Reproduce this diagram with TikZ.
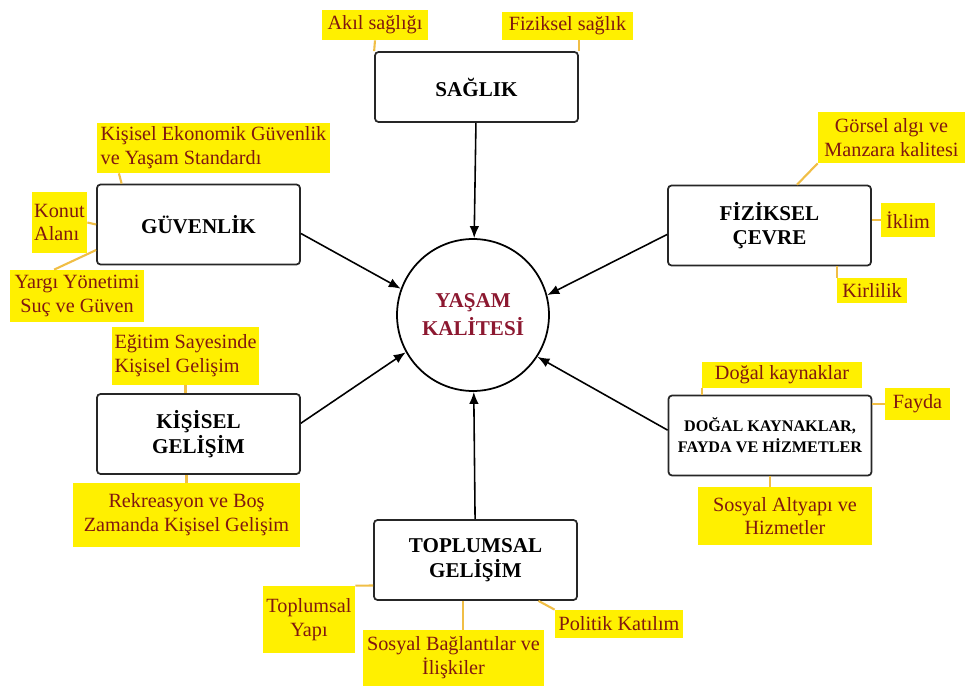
\documentclass[tikz,border=0pt]{standalone}
\usepackage{fontspec}
\setmainfont{Liberation Serif}
\usetikzlibrary{arrows.meta}

\definecolor{labelfill}{RGB}{255,240,0}
\definecolor{labeltext}{RGB}{128,24,16}
\definecolor{coretext}{RGB}{140,24,48}
\definecolor{linkline}{RGB}{240,190,70}

\tikzset{
  domainbox/.style={draw=black!85, line width=1pt, rounded corners=2pt, fill=white,
    minimum width=4.06cm, minimum height=1.6cm, align=center,
    font=\fontsize{12}{14}\selectfont\bfseries},
  itembox/.style={fill=labelfill, text=labeltext, inner sep=1pt, align=center,
    font=\fontsize{11.5}{13.5}\selectfont},
  link/.style={draw=linkline, line width=1.2pt},
  pointer/.style={-{Latex[length=2.4mm, width=1.9mm]}, line width=0.9pt},
}

\begin{document}
\begin{tikzpicture}[x=0.02cm, y=-0.02cm]
    \useasboundingbox (0,0) rectangle (965,686);
    % Centre
    \node[draw, circle, line width=1pt, minimum size=3.04cm, align=center, text=coretext,
      font=\fontsize{12}{16}\selectfont\bfseries] (yk) at (473,315) {YAŞAM\\KALİTESİ};
    % Dimensions
    \node[domainbox, minimum height=1.4cm] (sag) at (476.5,87) {SAĞLIK};
    \node[domainbox] (guv) at (198.5,224.5) {GÜVENLİK};
    \node[domainbox] (fiz) at (769.5,225.5) {FİZİKSEL\\ÇEVRE};
    \node[domainbox] (kis) at (198.5,434) {KİŞİSEL\\GELİŞİM};
    \node[domainbox, font=\fontsize{9.2}{12}\selectfont\bfseries] (dog) at (770,435.5) {DOĞAL KAYNAKLAR,\\FAYDA VE HİZMETLER};
    \node[domainbox] (top) at (475.5,560) {TOPLUMSAL\\GELİŞİM};
    % Arrows to the centre
    \draw[pointer] (sag) -- (yk);
    \draw[pointer] (guv.-5) -- (yk.160);
    \draw[pointer] (fiz.185) -- (yk.15);
    \draw[pointer] (kis.6) -- (yk.209);
    \draw[pointer] (dog.177) -- (yk.-33);
    \draw[pointer] (top) -- (yk);
    % Items
    \node[itembox, minimum width=2.12cm, minimum height=0.6cm] (aks) at (375,25) {Akıl sağlığı};
    \node[itembox, minimum width=2.62cm, minimum height=0.56cm] (fzs) at (567.5,26) {Fiziksel sağlık};
    \node[itembox, align=left, minimum width=4.66cm, minimum height=1cm] (keg) at (213.5,148) {Kişisel Ekonomik Güvenlik\\ve Yaşam Standardı};
    \node[itembox, align=left, minimum width=1.1cm, minimum height=1.22cm] (kon) at (59.5,222.5) {Konut\\Alanı};
    \node[itembox, minimum width=2.68cm, minimum height=1.04cm] (yar) at (77,296) {Yargı Yönetimi\\Suç ve Güven};
    \node[itembox, minimum width=2.94cm, minimum height=1.02cm] (gor) at (891.5,137.5) {Görsel algı ve\\Manzara kalitesi};
    \node[itembox, minimum width=1.08cm, minimum height=0.68cm] (ikl) at (908,220) {İklim};
    \node[itembox, minimum width=1.4cm, minimum height=0.5cm] (kir) at (872,290.5) {Kirlilik};
    \node[itembox, minimum width=3.2cm, minimum height=0.52cm] (dkl) at (782,375) {Doğal kaynaklar};
    \node[itembox, minimum width=1.3cm, minimum height=0.64cm] (fay) at (917.5,404) {Fayda};
    \node[itembox, minimum width=3.48cm, minimum height=1.16cm] (sos) at (785,516) {Sosyal Altyapı ve\\Hizmetler};
    \node[itembox, align=left, minimum width=2.94cm, minimum height=1.16cm] (egi) at (185.5,356) {Eğitim Sayesinde\\Kişisel Gelişim};
    \node[itembox, minimum width=4.54cm, minimum height=1.28cm] (rek) at (186.5,515) {Rekreasyon ve Boş\\Zamanda Kişisel Gelişim};
    \node[itembox, minimum width=1.84cm, minimum height=1.34cm] (tyap) at (309,619.5) {Toplumsal\\Yapı};
    \node[itembox, minimum width=3.62cm, minimum height=1.12cm] (sbi) at (453.5,658) {Sosyal Bağlantılar ve\\İlişkiler};
    \node[itembox, minimum width=2.56cm, minimum height=0.56cm] (pol) at (619,624) {Politik Katılım};
    % Links from items to boxes
    \draw[link] (aks.south) -- (sag.north west);
    \draw[link] (fzs.south -| sag.north east) -- (sag.north east);
    \draw[link] (keg.-165) -- (guv.152);
    \draw[link] (kon.east) -- (guv.west);
    \draw[link] (yar.131) -- (guv.194);
    \draw[link] (gor.south west) -- (fiz.56);
    \draw[link] (ikl.west) -- (ikl.west -| fiz.east);
    \draw[link] (kir.north west) -- (kir.north west |- fiz.south);
    \draw[link] (dkl.south west) -- (dkl.south west |- dog.north);
    \draw[link] (fay.west) -- (fay.west -| dog.east);
    \draw[link] (dog.south) -- (dog.south |- sos.north);
    \draw[link] (egi.south) -- (egi.south |- kis.north);
    \draw[link] (rek.north) -- (rek.north |- kis.south);
    \draw[link] (tyap.north east) -- (top.194);
    \draw[link] (top.-107) -- (top.-107 |- sbi.north);
    \draw[link] (top.-33) -- (pol.north west);
\end{tikzpicture}
\end{document}
